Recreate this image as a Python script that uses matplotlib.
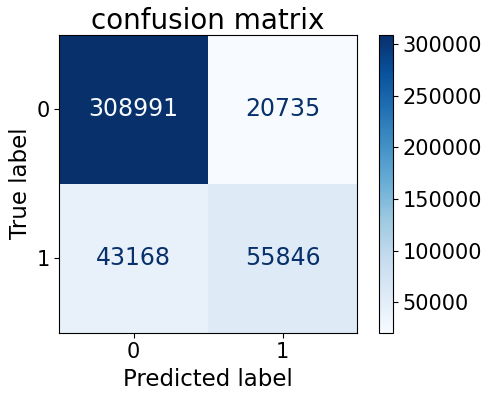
import numpy as np
import matplotlib
matplotlib.use("Agg")
import matplotlib.pyplot as plt

# confusion matrix values (rows = true label, cols = predicted label)
labels = ["0", "1"]
row_0 = [308991, 20735]
row_1 = [43168, 55846]
cbar_ticks = [50000, 100000, 150000, 200000, 250000, 300000]

cm = np.array([row_0, row_1])
cmap = plt.cm.Blues

plt.rcParams["font.size"] = 15

fig = plt.figure(figsize=(4.98, 3.96), dpi=100)
ax = fig.add_axes([0.118, 0.16, 0.6, 0.752])
cax = fig.add_axes([0.761, 0.16, 0.028, 0.752])

im = ax.imshow(cm, interpolation="nearest", cmap=cmap,
               vmin=cm.min(), vmax=cm.max())

# cell text: light text on dark cells, dark text on light cells
thresh = (cm.max() + cm.min()) / 2.0
for i in range(cm.shape[0]):
    for j in range(cm.shape[1]):
        color = cmap(0.0) if cm[i, j] > thresh else cmap(1.0)
        ax.text(j, i, f"{cm[i, j]}", ha="center", va="center",
                color=color, fontsize=17)

ax.set_xticks(range(len(labels)))
ax.set_yticks(range(len(labels)))
ax.set_xticklabels(labels)
ax.set_yticklabels(labels)
ax.set_xlabel("Predicted label", fontsize=16.5, labelpad=4)
ax.set_ylabel("True label", fontsize=16.5, labelpad=3)
ax.set_title("confusion matrix", fontsize=20, pad=4)

cb = fig.colorbar(im, cax=cax)
cb.set_ticks(cbar_ticks)

fig.savefig("out.png", dpi=100)
